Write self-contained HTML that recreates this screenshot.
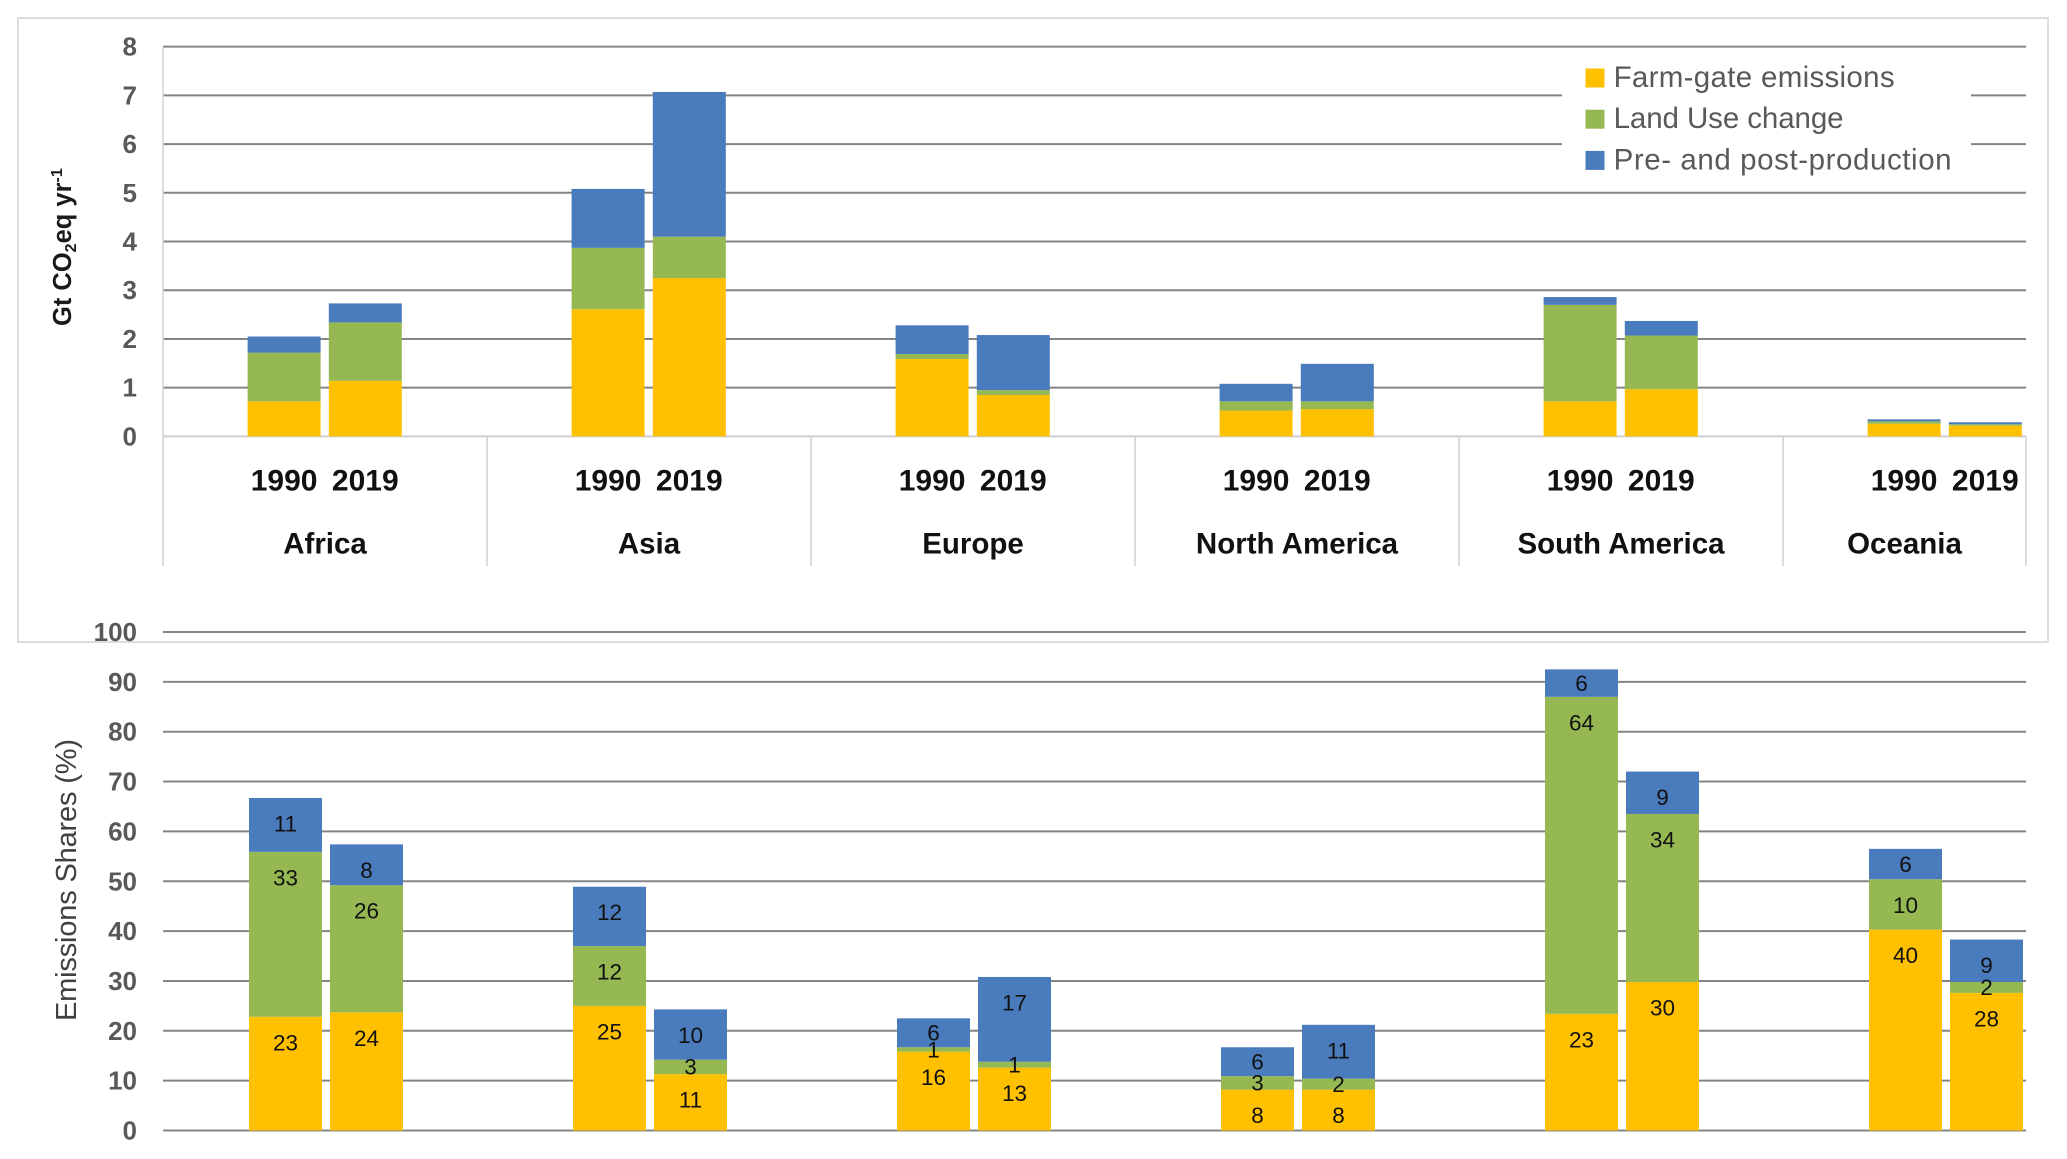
<!DOCTYPE html>
<html lang="en">
<head>
<meta charset="utf-8">
<title>Food system emissions by region</title>
<style>
  html, body { margin: 0; padding: 0; background: #fff; }
  svg { display: block; font-family: "Liberation Sans", sans-serif; }
</style>
</head>
<body>
<svg id="chart" xmlns="http://www.w3.org/2000/svg" width="2067" height="1159" viewBox="0 0 2067 1159">
  <rect x="0" y="0" width="2067" height="1159" fill="#ffffff"/>
  <rect x="18" y="18" width="2030" height="624" fill="none" stroke="#dcdcdc" stroke-width="2"/>
  <g id="top-grid"></g>
  <g id="bottom-grid"></g>
  <g id="top-axis"></g>
  <rect x="1562" y="60" width="409" height="120" fill="#ffffff"/>
  <g id="top-bars"></g>
  <g id="bottom-bars"></g>
  <g id="legend"></g>
  <text transform="translate(71,326) rotate(-90)" font-size="25.5" font-weight="bold" fill="#1a1a1a">Gt CO<tspan font-size="16" dy="5">2</tspan><tspan dy="-5">eq yr</tspan><tspan font-size="16" dy="-9">-1</tspan></text>
  <text transform="translate(76,1021) rotate(-90)" font-size="29" fill="#404040" textLength="282">Emissions Shares (%)</text>
</svg>
<script>
const regions = ["Africa", "Asia", "Europe", "North America", "South America", "Oceania"];
const years = ["1990", "2019"];
const seriesNames = ["Farm-gate emissions", "Land Use change", "Pre- and post-production"];
const seriesColors = ["#FFC000", "#95B853", "#4A7BBD"];
const topTicks = [0, 1, 2, 3, 4, 5, 6, 7, 8];
const bottomTicks = [0, 10, 20, 30, 40, 50, 60, 70, 80, 90, 100];

// Gt CO2eq per year: [1990, 2019] for each region
const topFarmGate = [[0.72, 1.14], [2.61, 3.25], [1.59, 0.85], [0.53, 0.56], [0.72, 0.97], [0.26, 0.22]];
const topLandUse = [[1.00, 1.20], [1.26, 0.85], [0.10, 0.10], [0.19, 0.16], [1.98, 1.10], [0.05, 0.03]];
const topPrePost = [[0.33, 0.39], [1.21, 2.97], [0.59, 1.13], [0.36, 0.77], [0.16, 0.30], [0.04, 0.04]];

// Emission shares in %: [1990, 2019] for each region
const shareFarmGate = [[22.8, 23.7], [25.0, 11.3], [15.8, 12.6], [8.2, 8.2], [23.4, 29.8], [40.3, 27.6]];
const shareLandUse = [[33.1, 25.5], [12.0, 2.9], [0.9, 1.2], [2.7, 2.2], [63.6, 33.7], [10.1, 2.2]];
const sharePrePost = [[10.8, 8.2], [11.9, 10.1], [5.8, 17.0], [5.8, 10.8], [5.5, 8.5], [6.1, 8.5]];

const NS = "http://www.w3.org/2000/svg";
function make(tag, parent, attrs, text) {
  const el = document.createElementNS(NS, tag);
  for (const k in attrs) el.setAttribute(k, attrs[k]);
  if (text !== undefined) el.textContent = text;
  parent.appendChild(el);
  return el;
}
function slug(s) { return s.toLowerCase().replace(/[^a-z0-9]+/g, "-").replace(/^-|-$/g, ""); }

const plotLeft = 163;
const plotRight = 2026;
const catWidth = 324;
function yTop(v) { return 436.4 - 48.72 * v; }
function yBottom(v) { return 1130.5 - 4.985 * v; }
function catStart(c) { return plotLeft + catWidth * c; }
function catCenter(c) { return (catStart(c) + Math.min(catStart(c) + catWidth, plotRight)) / 2; }
function xTopBar(c, yr) { return catStart(c) + (yr === 0 ? 84.6 : 165.8); }
function xBottomBar(c, yr) { return catStart(c) + (yr === 0 ? 86 : 167); }

/* gridlines and tick labels */
const topGrid = document.getElementById("top-grid");
topTicks.forEach(function (t) {
  if (t !== 0) {
    const line = make("line", topGrid, { x1: plotLeft, x2: plotRight, y1: yTop(t), y2: yTop(t), stroke: "#858585", "stroke-width": 2 });
    
    
  }
  const label = make("text", topGrid, { x: 137, y: yTop(t) + 9, "text-anchor": "end", "font-size": 26, "font-weight": "bold", fill: "#595959" }, String(t));
  
  
});

const bottomGrid = document.getElementById("bottom-grid");
bottomTicks.forEach(function (t) {
  const line = make("line", bottomGrid, { x1: plotLeft, x2: plotRight, y1: yBottom(t), y2: yBottom(t), stroke: "#858585", "stroke-width": 2 });
  
  
  const label = make("text", bottomGrid, { x: 137, y: yBottom(t) + 9, "text-anchor": "end", "font-size": 26, "font-weight": "bold", fill: "#595959" }, String(t));
  
  
});

/* category axis of top chart */
const topAxis = document.getElementById("top-axis");
const baseLine = make("line", topAxis, { x1: plotLeft, x2: plotRight, y1: yTop(0), y2: yTop(0), stroke: "#cfcfcf", "stroke-width": 2 });


const valueAxis = make("line", topAxis, { x1: plotLeft, x2: plotLeft, y1: yTop(8), y2: yTop(0), stroke: "#d4d4d4", "stroke-width": 1.5 });



regions.forEach(function (r, c) {
  const divider = make("line", topAxis, { x1: catStart(c), x2: catStart(c), y1: yTop(0), y2: 566, stroke: "#cfcfcf", "stroke-width": 1.5 });
  
  
  years.forEach(function (yrLabel, yr) {
    const cx = xTopBar(c, yr) + 36.5;
    const yt = make("text", topAxis, { x: cx, y: 490.5, "text-anchor": "middle", "font-size": 30, "font-weight": "bold", fill: "#111111" }, yrLabel);
    
    
  });
  const rt = make("text", topAxis, { x: catCenter(c), y: 553.5, "text-anchor": "middle", "font-size": 29.5, "font-weight": "bold", fill: "#111111" }, r);
  
  
});
const endDivider = make("line", topAxis, { x1: plotRight, x2: plotRight, y1: yTop(0), y2: 566, stroke: "#cfcfcf", "stroke-width": 1.5 });



/* top stacked bars */
const topBars = document.getElementById("top-bars");
const topSeries = [topFarmGate, topLandUse, topPrePost];
regions.forEach(function (r, c) {
  years.forEach(function (yrLabel, yr) {
    let base = 0;
    topSeries.forEach(function (values, s) {
      const v = values[c][yr];
      const rect = make("rect", topBars, { x: xTopBar(c, yr), y: yTop(base + v), width: 73, height: yTop(base) - yTop(base + v), fill: seriesColors[s] });
      
      
      base += v;
    });
  });
});

/* bottom stacked bars with labels */
const bottomBars = document.getElementById("bottom-bars");
const bottomSeries = [shareFarmGate, shareLandUse, sharePrePost];
regions.forEach(function (r, c) {
  years.forEach(function (yrLabel, yr) {
    let base = 0;
    bottomSeries.forEach(function (values, s) {
      const v = values[c][yr];
      const top = yBottom(base + v);
      const h = yBottom(base) - top;
      const rect = make("rect", bottomBars, { x: xBottomBar(c, yr), y: top, width: 73, height: h, fill: seriesColors[s] });
      
      
      base += v;
    });
    base = 0;
    bottomSeries.forEach(function (values, s) {
      const v = values[c][yr];
      const top = yBottom(base + v);
      const h = yBottom(base) - top;
      const cy = top + (h >= 35 ? 25.7 : h / 2);
      const label = make("text", bottomBars, { x: xBottomBar(c, yr) + 36.5, y: cy + 7.8, "text-anchor": "middle", "font-size": 22.5, fill: "#111111" }, String(Math.round(v)));
      
      
      base += v;
    });
  });
});

/* legend */
const legend = document.getElementById("legend");
const legendWidths = [281, 230, 338];
seriesNames.forEach(function (name, i) {
  const rowY = 78 + i * 41.2;
  const sw = make("rect", legend, { x: 1585.5, y: rowY - 9.5, width: 19, height: 19, fill: seriesColors[i] });
  
  
  const t = make("text", legend, { x: 1613.6, y: rowY + 9, "font-size": 29.5, fill: "#595959", textLength: legendWidths[i] }, name);
  
  
});
</script>
</body>
</html>
